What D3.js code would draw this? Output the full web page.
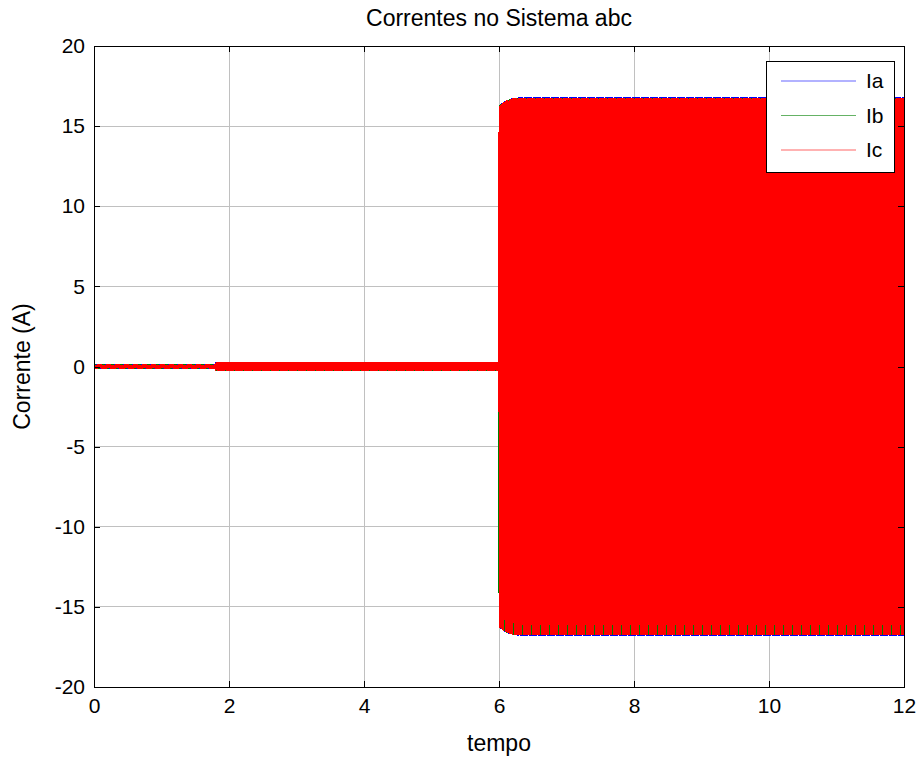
<!DOCTYPE html>
<html><head><meta charset="utf-8">
<script src="https://cdn.jsdelivr.net/npm/d3@7"></script>
<style>
body{margin:0;background:#fff;}
text{font-family:"Liberation Sans",Arial,sans-serif;}
</style></head>
<body><svg id="c" width="921" height="757"></svg>
<script>
const title = "Correntes no Sistema abc";
const xLabel = "tempo";
const yLabel = "Corrente (A)";
const xTicks = [0, 2, 4, 6, 8, 10, 12];
const yTicks = [-20, -15, -10, -5, 0, 5, 10, 15, 20];
const seriesNames = ["Ia", "Ib", "Ic"];
const seriesColors = ["#0000ff", "#008000", "#ff0000"];
const phaseShiftsDeg = [0, -120, 120];
const freqHz = 60;
// amplitude envelope breakpoints (time s, peak current A)
const envTime = [0, 1.8, 1.8, 5.99, 6.0, 6.1, 6.2, 6.3, 12];
const envAmp  = [0.1, 0.1, 0.25, 0.25, 16.3, 16.6, 16.75, 16.8, 16.8];
const sampleStep = 1 / 2400;

const svg = d3.select("#c");
const x = d3.scaleLinear().domain([0, 12]).range([94, 904]);
const y = d3.scaleLinear().domain([-20, 20]).range([687, 46]);
const FS = 21, FL = 23;

const g = svg.append("g");
g.selectAll(".gx").data(xTicks.slice(1, -1)).enter().append("line")
  .attr("x1", d => x(d)).attr("x2", d => x(d)).attr("y1", y(-20)).attr("y2", y(20))
  .attr("stroke", "#c0c0c0").attr("shape-rendering", "crispEdges");
g.selectAll(".gy").data(yTicks.slice(1, -1)).enter().append("line")
  .attr("y1", d => y(d)).attr("y2", d => y(d)).attr("x1", x(0)).attr("x2", x(12))
  .attr("stroke", "#c0c0c0").attr("shape-rendering", "crispEdges");

const env = d3.scaleLinear().domain(envTime).range(envAmp);
const times = d3.range(0, 12 + 1e-9, sampleStep);
const line = d3.line().x(d => x(d[0])).y(d => y(d[1]));
svg.append("clipPath").attr("id", "pc").append("rect")
  .attr("x", x(0)).attr("y", y(20)).attr("width", x(12) - x(0)).attr("height", y(-20) - y(20));
const plot = svg.append("g").attr("clip-path", "url(#pc)");
seriesNames.forEach((n, i) => {
  const ph = phaseShiftsDeg[i] * Math.PI / 180;
  const pts = times.map(t => [t, env(t) * Math.sin(2 * Math.PI * freqHz * t + ph)]);
  plot.append("path").attr("d", line(pts)).attr("fill", "none")
    .attr("stroke", seriesColors[i]).attr("stroke-width", 1).attr("shape-rendering", "crispEdges");
});

svg.append("rect").attr("x", x(0)).attr("y", y(20)).attr("width", x(12) - x(0)).attr("height", y(-20) - y(20))
  .attr("fill", "none").attr("stroke", "#000").attr("shape-rendering", "crispEdges");

const fmt = d => String(d);
const axB = d3.axisBottom(x).tickValues(xTicks).tickSizeInner(-6).tickSizeOuter(0).tickPadding(11).tickFormat(fmt);
const axT = d3.axisTop(x).tickValues(xTicks).tickSizeInner(-6).tickSizeOuter(0).tickFormat("");
const axL = d3.axisLeft(y).tickValues(yTicks).tickSizeInner(-6).tickSizeOuter(0).tickPadding(9).tickFormat(fmt);
const axR = d3.axisRight(y).tickValues(yTicks).tickSizeInner(-6).tickSizeOuter(0).tickFormat("");
function style(sel) {
  sel.select(".domain").remove();
  sel.attr("font-size", FS).attr("font-family", '"Liberation Sans",Arial,sans-serif');
  sel.selectAll("line").attr("stroke", "#000").attr("shape-rendering", "crispEdges");
  sel.selectAll("text").attr("fill", "#000");
}
svg.append("g").attr("transform", `translate(0,${y(-20)})`).call(axB).call(style);
svg.append("g").attr("transform", `translate(0,${y(20)})`).call(axT).call(style);
svg.append("g").attr("transform", `translate(${x(0)},0)`).call(axL).call(style);
svg.append("g").attr("transform", `translate(${x(12)},0)`).call(axR).call(style);

svg.append("text").attr("x", (x(0) + x(12)) / 2).attr("y", 26).attr("text-anchor", "middle")
  .attr("font-size", FL).text(title);
svg.append("text").attr("x", (x(0) + x(12)) / 2).attr("y", 751).attr("text-anchor", "middle")
  .attr("font-size", FL).text(xLabel);
svg.append("text").attr("transform", `translate(30,${y(0)}) rotate(-90)`).attr("text-anchor", "middle")
  .attr("font-size", FL).text(yLabel);

const lg = svg.append("g");
lg.append("rect").attr("x", 766).attr("y", 61).attr("width", 128).attr("height", 111)
  .attr("fill", "#fff").attr("stroke", "#000").attr("shape-rendering", "crispEdges");
seriesNames.forEach((n, i) => {
  const ly = 81 + i * 34.5;
  lg.append("line").attr("x1", 781).attr("x2", 856).attr("y1", ly).attr("y2", ly)
    .attr("stroke", seriesColors[i]).attr("stroke-width", 1).attr("opacity", 0.6);
  lg.append("text").attr("x", 866).attr("y", ly + 7).attr("font-size", FS).text(n);
});
</script></body></html>
